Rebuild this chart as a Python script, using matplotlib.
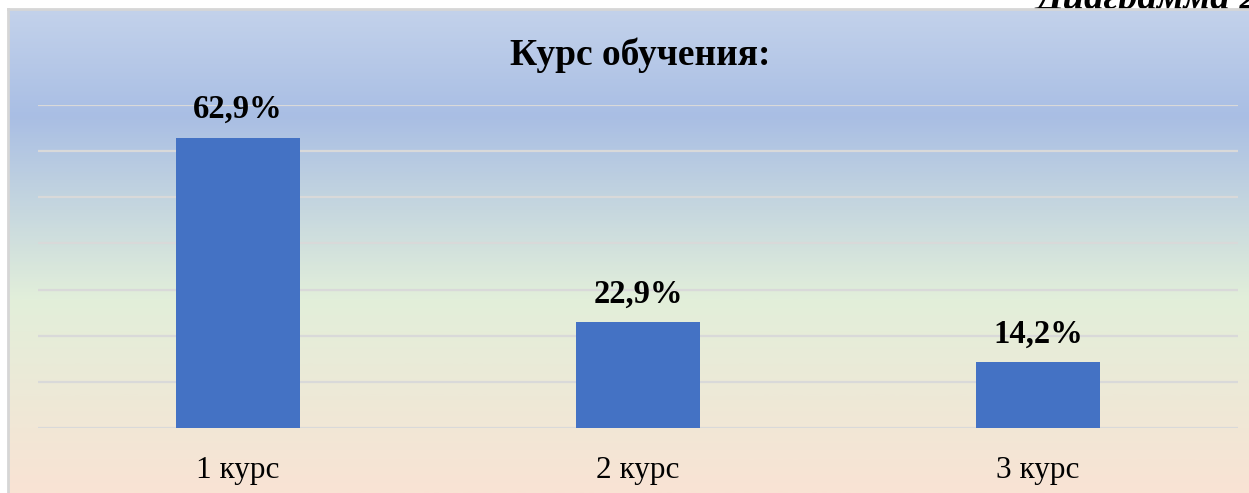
import matplotlib
matplotlib.use("Agg")
import matplotlib.pyplot as plt
import numpy as np
from matplotlib.colors import LinearSegmentedColormap

categories = ["1 курс", "2 курс", "3 курс"]
values = [62.9, 22.9, 14.2]
labels = ["62,9%", "22,9%", "14,2%"]
title = "Курс обучения:"
caption = "Диаграмма 2"

W, H = 1249, 493
fig = plt.figure(figsize=(W / 100, H / 100), dpi=100)
fig.patch.set_facecolor("white")
serif = ["Liberation Serif", "DejaVu Serif"]

# caption (cut off at top)
fig.text(1037 / W, 1 - 9 / H, caption, fontsize=28, fontstyle="italic",
         fontweight="bold", family=serif, ha="left", va="baseline", zorder=-5)

# gradient background
x0, y0 = 8, 9
bg = fig.add_axes([x0 / W, 0, 1 - x0 / W, 1 - y0 / H], zorder=0)
cmap = LinearSegmentedColormap.from_list(
    "g", [(0.0, "#C3D2EB"), (0.22, "#A9BEE4"), (0.6, "#E2EFDA"), (1.0, "#F9E3D4")])
grad = np.linspace(0, 1, 400).reshape(-1, 1)
bg.imshow(grad, aspect="auto", cmap=cmap, extent=[0, 1, 0, 1], origin="upper")
bg.set_xlim(0, 1)
bg.set_ylim(0, 1)
bg.set_xticks([])
bg.set_yticks([])
for s in ["right", "bottom"]:
    bg.spines[s].set_visible(False)
for s in ["left", "top"]:
    bg.spines[s].set_color("#D6D6D6")
    bg.spines[s].set_linewidth(2)

# main axes
left, right, base, top = 38, 1238, 428, 105
ax = fig.add_axes([left / W, 1 - base / H, (right - left) / W, (base - top) / H], zorder=1)
ax.patch.set_alpha(0)
x = np.arange(len(categories))
ax.bar(x, values, width=0.31, color="#4472C4", zorder=3)
ax.set_xlim(-0.5, len(categories) - 0.5)
ax.set_ylim(0, 70)
ax.set_yticks(np.arange(0, 71, 10))
ax.yaxis.grid(True, color="#D9D9D9", linewidth=1.6)
ax.set_axisbelow(True)
ax.tick_params(axis="y", left=False, labelleft=False)
ax.tick_params(axis="x", bottom=False, pad=17)
ax.set_xticks(x)
ax.set_xticklabels(categories, fontsize=22.5, family=serif)
for s in ax.spines.values():
    s.set_visible(False)
for xi, v, lab in zip(x, values, labels):
    ax.annotate(lab, (xi, v), xytext=(0, 14.4), textcoords="offset points",
                ha="center", va="baseline", fontsize=23.5, fontweight="bold", family=serif)

fig.text(640 / W, 1 - 65 / H, title, fontsize=27, fontweight="bold", family=serif,
         ha="center", va="baseline", zorder=5)

fig.savefig("out.png", dpi=100)
